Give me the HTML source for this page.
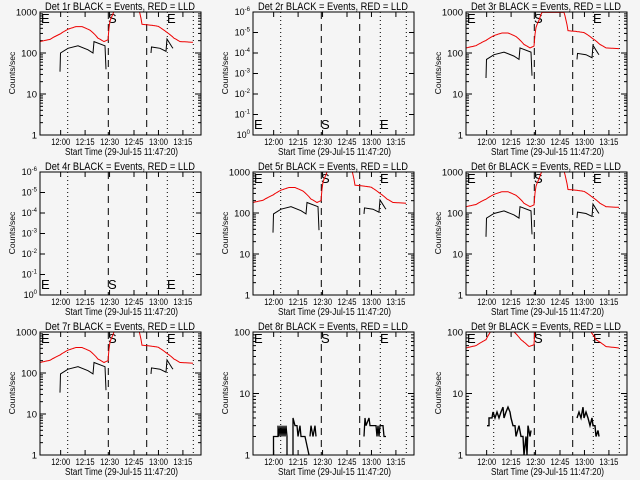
<!DOCTYPE html>
<html><head><meta charset="utf-8"><style>
html,body{margin:0;padding:0;background:#f5f5f5;}
svg{display:block;font-family:"Liberation Sans",sans-serif;}
</style></head><body>
<svg id="s" width="640" height="480" xmlns="http://www.w3.org/2000/svg"></svg>
<script>
var S=document.getElementById('s');var out='<defs><clipPath id="c"><rect x="40" y="12" width="161" height="123"/></clipPath></defs><rect width="640" height="480" fill="#f5f5f5"/>';
var X0=40,X1=201,Y0=12,Y1=135;
function tx(m){return X0+m*1.63;}
function lin(pts){return pts.map(function(p,i){return (i?'L':'M')+p[0].toFixed(1)+','+p[1].toFixed(1);}).join('');}
function interp(keys,x){for(var i=0;i<keys.length-1;i++){if(x>=keys[i][0]&&x<=keys[i+1][0]){var t=(x-keys[i][0])/(keys[i+1][0]-keys[i][0]);return keys[i][1]+(keys[i+1][1]-keys[i][1])*t;}}return null;}
function curve(keys,x0,x1,fy,step){var p=[];for(var x=x0;x<=x1;x+=step){var v=interp(keys,x);if(v===null)continue;p.push([x,fy(v)]);}return p;}
function panel(n,col,row,type,sc){
 var ox=col*213,oy=row*160;var g='<g transform="translate('+ox+','+oy+')">';
 g+='<text x="45" y="10" font-size="11" textLength="150" lengthAdjust="spacingAndGlyphs">Det '+n+'r BLACK = Events, RED = LLD</text>';
 g+='<text x="0" y="0" font-size="8.5" text-anchor="middle" transform="translate(15,73) rotate(-90)">Counts/sec</text>';
 g+='<text x="65" y="155" font-size="10.5" textLength="113" lengthAdjust="spacingAndGlyphs">Start Time (29-Jul-15 11:47:20)</text>';
 var labs=[['12:00',12.67],['12:15',27.67],['12:30',42.67],['12:45',57.67],['13:00',72.67],['13:15',87.67]];
 labs.forEach(function(l){var x=tx(l[1]);g+='<text x="'+(x-9.5).toFixed(1)+'" y="145" font-size="9" textLength="19" lengthAdjust="spacingAndGlyphs">'+l[0]+'</text>';
  g+='<line x1="'+x+'" y1="'+Y1+'" x2="'+x+'" y2="'+(Y1-5)+'" stroke="#000"/><line x1="'+x+'" y1="'+Y0+'" x2="'+x+'" y2="'+(Y0+5)+'" stroke="#000"/>';});
 [67.7,167.3,193.3].forEach(function(x){g+='<line x1="'+x+'" y1="'+Y0+'" x2="'+x+'" y2="'+Y1+'" stroke="#000" stroke-dasharray="1,3"/>';});
 [108.3,146.7].forEach(function(x){g+='<line x1="'+x+'" y1="'+Y0+'" x2="'+x+'" y2="'+Y1+'" stroke="#000" stroke-dasharray="7,5"/>';});
 var ndec,fy;
 if(type=='empty'){
  var labels=['10<tspan font-size="6" dy="-4">0</tspan>'];
  for(var k=1;k<=6;k++)labels.push('10<tspan font-size="6" dy="-4">-'+k+'</tspan>');
  for(var k=0;k<=6;k++){var y=Y1-k*20.5;g+='<text x="37" y="'+(y+3)+'" font-size="9" text-anchor="end">'+labels[k]+'</text>';
   g+='<line x1="'+X0+'" y1="'+y+'" x2="'+(X0+5)+'" y2="'+y+'" stroke="#000"/><line x1="'+X1+'" y1="'+y+'" x2="'+(X1-5)+'" y2="'+y+'" stroke="#000"/>';}
  g+='<text x="41" y="129" font-size="13">E</text><text x="108" y="129" font-size="13">S</text><text x="167" y="129" font-size="13">E</text>';
 } else {
  ndec=(type=='full')?3:2;var dpx=(Y1-Y0)/ndec;
  fy=function(v){return Y1-Math.log10(v)*dpx;};
  for(var k=0;k<=ndec;k++){var y=Y1-k*dpx;g+='<text x="37" y="'+(y+3.5)+'" font-size="9.5" text-anchor="end">'+Math.pow(10,k)+'</text>';
   g+='<line x1="'+X0+'" y1="'+y+'" x2="'+(X0+6)+'" y2="'+y+'" stroke="#000"/><line x1="'+X1+'" y1="'+y+'" x2="'+(X1-6)+'" y2="'+y+'" stroke="#000"/>';
   if(k<ndec)for(var m=2;m<10;m++){var yy=y-Math.log10(m)*dpx;g+='<line x1="'+X0+'" y1="'+yy+'" x2="'+(X0+3)+'" y2="'+yy+'" stroke="#000"/><line x1="'+X1+'" y1="'+yy+'" x2="'+(X1-3)+'" y2="'+yy+'" stroke="#000"/>';}}
  g+='<text x="41" y="23" font-size="13">E</text><text x="108" y="23" font-size="13">S</text><text x="167" y="23" font-size="13">E</text>';
  g+='<g clip-path="url(#c)">';
  if(type=='full'){
   var r=[[40,190],[50,215],[60,290],[68,380],[76,440],[82,440],[90,360],[98,230],[104,190],[108,210],[110,600],[113,900],[116,1400],[138,1400],[140,900],[142,500],[150,480],[158,450],[166,330],[174,230],[180,190],[201,178]].map(function(p){return [p[0],p[1]*sc];});
   g+='<path d="'+lin(curve(r,40,193,fy,1))+'" stroke="#e00" fill="none"/>';
   var b1=[[60,35],[60.5,100],[68,130],[78,150],[88,120],[93,100],[94,190],[105,150],[106,40]].map(function(p){return [p[0],p[1]*sc];});
   var b2=[[151,100],[151.5,140],[160,130],[166,110],[167,220],[172,140],[173,130]].map(function(p){return [p[0],p[1]*sc];});
   g+='<path d="'+lin(b1.map(function(p){return [p[0],fy(p[1])];}))+'" stroke="#000" fill="none"/>';
   g+='<path d="'+lin(b2.map(function(p){return [p[0],fy(p[1])];}))+'" stroke="#000" fill="none"/>';
  } else if(type=='p8'){
   var d='M60.5,135L60.5,'+fy(2)+'L65,'+fy(2)+'L65,'+fy(3)+'L66,'+fy(2)+'L67,'+fy(3)+'L68,'+fy(2)+'L69,'+fy(3)+'L70,'+fy(2)+'L71,'+fy(3)+'L72,'+fy(2)+'L73,'+fy(3)+'L74,'+fy(2)+'L74,135';
   d+='M80,135L80,'+fy(4)+'L82,'+fy(3)+'L84,'+fy(3)+'L85,'+fy(2)+'L87,'+fy(3)+'L88,'+fy(2)+'L92,'+fy(2)+'L96,135M97,'+fy(2)+'L98,'+fy(3)+'L100,'+fy(2)+'L102,'+fy(3)+'L103,'+fy(2);
   d+='M151,'+fy(2)+'L152,'+fy(4)+'L153,'+fy(3)+'L156,'+fy(4)+'L157,'+fy(3)+'L163,'+fy(3)+'L164,'+fy(2)+'L165,'+fy(3)+'L166,'+fy(2)+'L167,'+fy(3)+'L170,'+fy(3)+'L171,'+fy(2)+'L173,'+fy(2);
   g+='<path d="'+d+'" stroke="#000" fill="none" stroke-width="1.3"/>';
  } else if(type=='p9'){
   var r1=[[40,55],[50,60],[60,75],[67,115]];var r2=[[84,115],[95,75],[103,58],[108,62],[109,120]];var r3=[[162,115],[170,75],[180,58],[193,55]];
   [r1,r2,r3].forEach(function(r){g+='<path d="'+lin(curve(r,r[0][0],r[r.length-1][0],fy,1))+'" stroke="#e00" fill="none"/>';});
   var d='M61,'+fy(3)+'L63,'+fy(3)+'L63,'+fy(4)+'L66,'+fy(4)+'L67,'+fy(5)+'L69,'+fy(4)+'L71,'+fy(5)+'L73,'+fy(4)+'L75,'+fy(5)+'L77,'+fy(6)+'L78,'+fy(4)+'L80,'+fy(5)+'L82,'+fy(6)+'L84,'+fy(5)+'L85,'+fy(4)+'L87,'+fy(3)+'L89,'+fy(3)+'L90,'+fy(2)+'L93,'+fy(3)+'L95,'+fy(2)+'L97,'+fy(2)+'L98,'+fy(1)+'L100,'+fy(2)+'L101,'+fy(1)+'L102,'+fy(3)+'L104,'+fy(2)+'L105,'+fy(2.5);
   d+='M151,'+fy(4)+'L153,'+fy(5)+'L155,'+fy(4)+'L157,'+fy(6)+'L158,'+fy(4)+'L160,'+fy(5)+'L162,'+fy(4)+'L164,'+fy(3)+'L166,'+fy(4)+'L167,'+fy(3)+'L169,'+fy(3)+'L170,'+fy(2)+'L172,'+fy(2.5)+'L173,'+fy(2);
   g+='<path d="'+d+'" stroke="#000" fill="none" stroke-width="1.4"/>';
  }
  g+='</g>';
 }
 g+='<rect x="'+X0+'" y="'+Y0+'" width="'+(X1-X0)+'" height="'+(Y1-Y0)+'" fill="none" stroke="#000"/>';
 g+='</g>';out+=g;
}
panel(1,0,0,'full',1.0);panel(2,1,0,'empty');panel(3,2,0,'full',0.7);
panel(4,0,1,'empty');panel(5,1,1,'full',0.95);panel(6,2,1,'full',0.75);
panel(7,0,2,'full',0.95);panel(8,1,2,'p8');panel(9,2,2,'p9');
S.innerHTML=out;
</script>
</body></html>
